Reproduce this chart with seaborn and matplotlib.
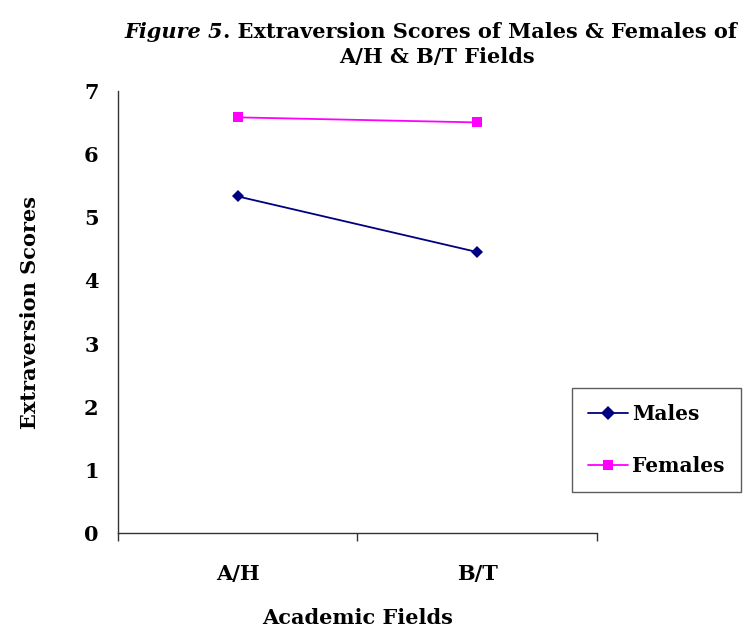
import pandas as pd
import matplotlib.pyplot as plt
import seaborn as sns

# Chart data
fields = ["A/H", "B/T"]
males = [5.33, 4.45]
females = [6.58, 6.50]

sns.set_style("white")
plt.rcParams['font.family'] = ['DejaVu Serif']
plt.rcParams['font.weight'] = 'bold'
plt.rcParams['text.color'] = 'black'
plt.rcParams['axes.labelcolor'] = 'black'
plt.rcParams['xtick.color'] = 'black'
plt.rcParams['ytick.color'] = 'black'

data = pd.DataFrame({
    'Field': fields * 2,
    'Score': males + females,
    'Group': ['Males'] * 2 + ['Females'] * 2,
})

fig = plt.figure(figsize=(7.47, 6.35), dpi=100)
ax = fig.add_axes([0.158, 0.160, 0.641, 0.697])

sns.lineplot(x='Field', y='Score', hue='Group', style='Group', data=data,
             palette={'Males': '#000080', 'Females': '#FF00FF'},
             markers={'Males': 'D', 'Females': 's'}, dashes=False,
             markersize=6.5, markeredgewidth=0, linewidth=1.3, ax=ax, sort=False)

ax.set_xlim(-0.5, 1.5)
ax.set_ylim(0, 7)
ax.set_yticks(range(0, 8))
ax.set_xticks([0, 1])
ax.set_xticklabels(fields)
ax.set_xticks([-0.5, 0.5, 1.5], minor=True)
ax.tick_params(axis='x', which='major', length=0, pad=22, labelsize=15)
ax.tick_params(axis='x', which='minor', length=6, width=1, direction='out',
               color='#333333', bottom=True)
ax.tick_params(axis='y', length=6, width=1, direction='out', color='#333333',
               labelsize=15, pad=8)

for s in ['top', 'right']:
    ax.spines[s].set_visible(False)
for s in ['left', 'bottom']:
    ax.spines[s].set_color('#333333')
    ax.spines[s].set_linewidth(1)

ax.set_xlabel('Academic Fields', fontsize=15, fontweight='bold', labelpad=17)
ax.set_ylabel('Extraversion Scores', fontsize=15, fontweight='bold', labelpad=32)

# title: italic "Figure 5" followed by the rest in bold
t1 = fig.text(0.167, 0.950, 'Figure 5', fontsize=15, fontweight='bold', style='italic',
              ha='left', va='center')
fig.canvas.draw()
bb = t1.get_window_extent()
x_end = bb.x1 / fig.bbox.width
fig.text(x_end, 0.950, '. Extraversion Scores of Males & Females of', fontsize=15,
         fontweight='bold', ha='left', va='center')
fig.text(0.585, 0.910, 'A/H & B/T Fields', fontsize=15, fontweight='bold',
         ha='center', va='center')

handles, labels = ax.get_legend_handles_labels()
for h in handles:
    h.set_markersize(7)
leg = ax.legend(handles, labels, loc='upper left', bbox_to_anchor=(0.948, 0.328),
                frameon=True, fancybox=False, edgecolor='#333333', fontsize=14.5,
                handlelength=2.0, handletextpad=0.2, labelspacing=1.55,
                borderpad=0.8, borderaxespad=0)
leg.get_frame().set_linewidth(1)

fig.savefig('out.png', dpi=100)
